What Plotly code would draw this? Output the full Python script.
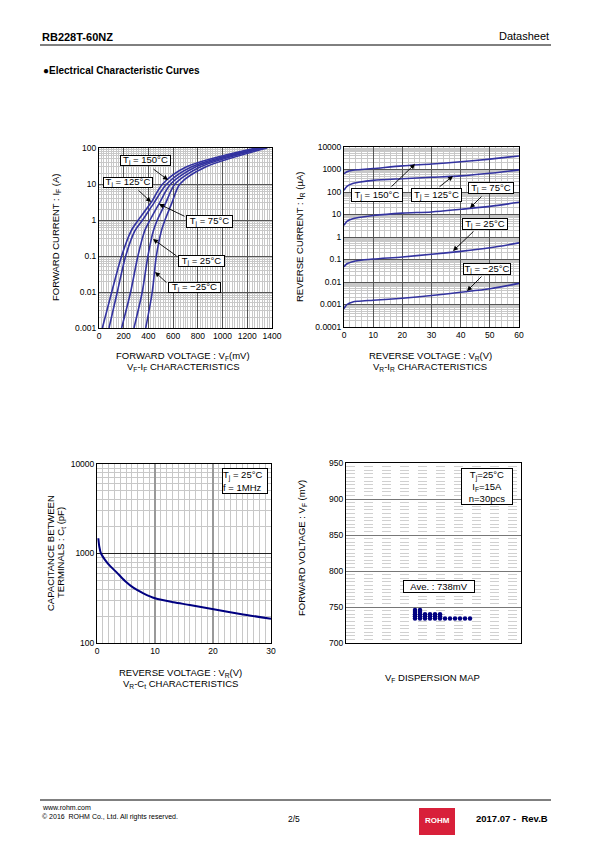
import plotly.graph_objects as go

W, H = 595, 842
FONT = "Liberation Sans, Arial, sans-serif"

# ---------------- data ----------------
# VF-IF characteristics (forward current A, forward voltage mV)
if_current = [0.001, 0.01, 0.1, 0.5, 1, 3, 10, 30, 100]
vf_150 = [27, 103, 183, 260, 318, 420, 515, 709, 1270]
vf_125 = [81, 148, 216, 290, 353, 445, 548, 750, 1295]
vf_75 = [183, 256, 315, 370, 413, 490, 580, 785, 1315]
vf_25 = [283, 350, 396, 440, 472, 540, 615, 823, 1335]
vf_m25 = [378, 431, 464, 505, 534, 590, 655, 866, 1360]

# VR-IR characteristics (reverse voltage V, reverse current uA)
vr_volt = [0, 1, 3, 5, 10, 20, 30, 40, 50, 60]
ir_150 = [650, 800, 920, 980, 1100, 1450, 1750, 2200, 2900, 4000]
ir_125 = [120, 180, 240, 270, 330, 390, 450, 520, 680, 960]
ir_75 = [3.3, 5, 6.5, 7.3, 9, 11.5, 13, 17, 23, 35]
ir_25 = [0.047, 0.065, 0.08, 0.09, 0.105, 0.13, 0.17, 0.23, 0.33, 0.55]
ir_m25 = [0.00065, 0.001, 0.0013, 0.0014, 0.00155, 0.0019, 0.0025, 0.0035, 0.005, 0.0087]

# VR-Ct characteristics (reverse voltage V, capacitance pF)
ct_volt = [0.23, 0.4, 0.69, 1.38, 2.24, 3.39, 4.83, 6.26, 8.0, 10, 13.2, 16, 20.1, 24.7, 30]
ct_cap = [1480, 1190, 1000, 850, 727, 615, 493, 415, 359, 316, 285, 266, 238, 211, 187]

# VF dispersion (mV), n pieces
vf_dispersion = [746, 746,
                 743, 743,
                 740, 740, 740, 740, 740, 740,
                 737, 737, 737, 737, 737, 737,
                 734, 734, 734, 734, 734, 734, 734, 734, 734, 734, 734, 734]

vf_ticks = [0, 200, 400, 600, 800, 1000, 1200, 1400]
if_ticks = [0.001, 0.01, 0.1, 1, 10, 100]
if_ticktext = ["0.001", "0.01", "0.1", "1", "10", "100"]
vr_ticks = [0, 10, 20, 30, 40, 50, 60]
ir_ticks = [0.0001, 0.001, 0.01, 0.1, 1, 10, 100, 1000, 10000]
ir_ticktext = ["0.0001", "0.001", "0.01", "0.1", "1", "10", "100", "1000", "10000"]
ct_xticks = [0, 10, 20, 30]
ct_ticks = [100, 1000, 10000]
disp_ticks = [700, 750, 800, 850, 900, 950]

CURVE = "#3333a0"
NAVY = "#000080"


def px(x):
    return x / W


def py(y):
    return 1 - y / H


fig = go.Figure()

# ---------- plot 1 ----------
for v in [vf_150, vf_125, vf_75, vf_25, vf_m25]:
    fig.add_trace(go.Scatter(x=v, y=if_current, mode="lines", xaxis="x", yaxis="y",
                             line=dict(color=CURVE, width=1.6, shape="spline", smoothing=0.8),
                             showlegend=False, hoverinfo="skip"))
# ---------- plot 2 ----------
for c in [ir_150, ir_125, ir_75, ir_25, ir_m25]:
    fig.add_trace(go.Scatter(x=vr_volt, y=c, mode="lines", xaxis="x2", yaxis="y2",
                             line=dict(color=CURVE, width=1.6, shape="spline", smoothing=0.8),
                             showlegend=False, hoverinfo="skip"))
# ---------- plot 3 ----------
fig.add_trace(go.Scatter(x=ct_volt, y=ct_cap, mode="lines", xaxis="x3", yaxis="y3",
                         line=dict(color=NAVY, width=2, shape="spline", smoothing=0.8),
                         showlegend=False, hoverinfo="skip"))
# ---------- plot 4 ----------
disp_x = []
seen = {}
for v in vf_dispersion:
    k = seen.get(v, 0)
    disp_x.append(k)
    seen[v] = k + 1
fig.add_trace(go.Scatter(x=disp_x, y=vf_dispersion, mode="markers", xaxis="x4", yaxis="y4",
                         marker=dict(color=NAVY, size=4.5, symbol="circle"),
                         showlegend=False, hoverinfo="skip"))

MAJ = "#555555"
MIN = "#c8c8c8"
tickfont = dict(family=FONT, size=8.5, color="black")


def axis(domain, **kw):
    d = dict(domain=domain, showline=True, linecolor="black", linewidth=1, mirror=True,
             ticks="", tickfont=tickfont, showgrid=True, gridcolor=MAJ, gridwidth=1,
             zeroline=False, fixedrange=True, automargin=False)
    d.update(kw)
    return d


fig.update_layout(
    template="none",
    width=W, height=H, margin=dict(l=0, r=0, t=0, b=0, pad=0, autoexpand=False),
    paper_bgcolor="white", plot_bgcolor="white", showlegend=False,
    font=dict(family=FONT, color="black"),
    xaxis=axis([px(99), px(272)], anchor="y", range=[0, 1400], tickvals=vf_ticks,
               minor=dict(dtick=20, showgrid=True, gridcolor=MIN, gridwidth=0.6)),
    yaxis=axis([py(328), py(148)], anchor="x", type="log", range=[-3, 2], tickvals=if_ticks,
               ticktext=if_ticktext,
               minor=dict(dtick="D1", showgrid=True, gridcolor=MIN, gridwidth=0.6)),
    xaxis2=axis([px(344), px(519)], anchor="y2", range=[0, 60], tickvals=vr_ticks,
                minor=dict(dtick=2, showgrid=True, gridcolor=MIN, gridwidth=0.6)),
    yaxis2=axis([py(327), py(147)], anchor="x2", type="log", range=[-4, 4], tickvals=ir_ticks,
                ticktext=ir_ticktext,
                minor=dict(dtick="D1", showgrid=True, gridcolor=MIN, gridwidth=0.6)),
    xaxis3=axis([px(97), px(271)], anchor="y3", range=[0, 30], tickvals=ct_xticks,
                gridcolor="#999999", gridwidth=1.5,
                minor=dict(dtick=1, showgrid=True, gridcolor=MIN, gridwidth=0.6)),
    yaxis3=axis([py(643), py(464)], anchor="x3", type="log", range=[2, 4], tickvals=ct_ticks,
                ticktext=["100", "1000", "10000"], gridcolor="#222222",
                minor=dict(dtick="D1", showgrid=True, gridcolor=MIN, gridwidth=0.6)),
    xaxis4=axis([px(346), px(521)], anchor="y4", range=[-13.8, 21.2], showticklabels=False,
                showgrid=False),
    yaxis4=axis([py(643), py(463)], anchor="x4", range=[700, 950], tickvals=disp_ticks,
                gridcolor="#777777", gridwidth=1.3,
                minor=dict(dtick=5, showgrid=True, gridcolor="#d0d0d0", gridwidth=0.6,
                           griddash="dash")),
)

ann = []


def text(x, y, s, size=9.5, xanchor="center", yanchor="middle", angle=0, bold=False,
         color="black"):
    if bold:
        s = "<b>" + s + "</b>"
    ann.append(dict(x=px(x), y=py(y), xref="paper", yref="paper", text=s, showarrow=False,
                    xanchor=xanchor, yanchor=yanchor, textangle=angle,
                    font=dict(family=FONT, size=size, color=color)))


def box(x0, y0, x1, y1, s, size=9.5, align="center"):
    ann.append(dict(x=px((x0 + x1) / 2), y=py((y0 + y1) / 2), xref="paper", yref="paper",
                    text=s, showarrow=False, xanchor="center", yanchor="middle", align=align,
                    width=x1 - x0 - 2, height=y1 - y0 - 2, bgcolor="white",
                    bordercolor="black", borderwidth=1, borderpad=0,
                    font=dict(family=FONT, size=size, color="black")))


def arrow(tx, ty, hx, hy):
    ann.append(dict(x=px(hx), y=py(hy), xref="paper", yref="paper", text="",
                    showarrow=True, ax=tx - hx, ay=ty - hy, arrowhead=2, arrowsize=1.1,
                    arrowwidth=0.9, arrowcolor="black", standoff=0, startstandoff=0))


# header / footer
text(40, 37, "RB228T-60NZ", size=11, xanchor="left", bold=True)
text(551, 36, "Datasheet", size=11, xanchor="right")
text(41, 71, "●Electrical Characteristic Curves", size=10, xanchor="left", bold=True)
text(40, 807, "www.rohm.com", size=7, xanchor="left")
text(40, 817, "© 2016  ROHM Co., Ltd. All rights reserved.", size=7, xanchor="left")
text(294, 819, "2/5", size=8.5)
text(550, 818, "2017.07 -  Rev.B", size=9.5, xanchor="right", bold=True)
text(437, 820, "ROHM", size=8, bold=True, color="white")

# plot 1 texts
text(183, 356, "FORWARD VOLTAGE : V<sub>F</sub>(mV)")
text(183, 367, "V<sub>F</sub>-I<sub>F</sub> CHARACTERISTICS")
text(56, 238, "FORWARD CURRENT : I<sub>F</sub> (A)", angle=-90)
box(120, 155, 171, 166, "T<sub>j</sub> = 150°C")
box(103, 177, 153, 188, "T<sub>j</sub> = 125°C")
box(186, 215, 233, 228, "T<sub>j</sub> = 75°C")
box(178, 255, 225, 267, "T<sub>j</sub> = 25°C")
box(168, 282, 221, 293, "T<sub>j</sub> = −25°C")
arrow(152, 168, 168, 180)
arrow(137, 189, 151, 202)
arrow(186, 217, 159, 204)
arrow(178, 257, 153, 239)
arrow(168, 284, 155, 272)

# plot 2 texts
text(430, 356, "REVERSE VOLTAGE : V<sub>R</sub>(V)")
text(430, 367, "V<sub>R</sub>-I<sub>R</sub> CHARACTERISTICS")
text(300, 237, "REVERSE CURRENT : I<sub>R</sub> (µA)", angle=-90)
box(351, 188, 403, 202, "T<sub>j</sub> = 150°C")
box(411, 188, 462, 202, "T<sub>j</sub> = 125°C")
box(468, 182, 514, 194, "T<sub>j</sub> = 75°C")
box(462, 218, 508, 230, "T<sub>j</sub> = 25°C")
box(463, 263, 511, 275, "T<sub>j</sub> = −25°C")
arrow(390, 188, 415, 164)
arrow(438, 188, 453, 176)
arrow(483, 195, 470, 208)
arrow(475, 230, 453, 251)
arrow(483, 275, 467, 291)

# plot 3 texts
text(180, 673, "REVERSE VOLTAGE : V<sub>R</sub>(V)")
text(180, 684, "V<sub>R</sub>-C<sub>t</sub> CHARACTERISTICS")
text(50, 553, "CAPACITANCE BETWEEN", angle=-90)
text(61, 553, "TERMINALS : C<sub>t</sub> (pF)", angle=-90)
box(222, 468, 268, 494, "T<sub>j</sub> = 25°C<br>f = 1MHz", align="left")

# plot 4 texts
text(432, 678, "V<sub>F</sub> DISPERSION MAP")
text(302, 548, "FORWARD VOLTAGE : V<sub>F</sub> (mV)", angle=-90)
box(461, 468, 513, 505, "T<sub>j</sub>=25°C<br>I<sub>F</sub>=15A<br>n=30pcs")
box(403, 580, 475, 593, "Ave. : 738mV")

fig.update_layout(annotations=ann)

shapes = [
    dict(type="line", xref="paper", yref="paper", x0=px(40), x1=px(551), y0=py(45), y1=py(45),
         line=dict(color="black", width=1)),
    dict(type="line", xref="paper", yref="paper", x0=px(40), x1=px(551), y0=py(800), y1=py(800),
         line=dict(color="black", width=1)),
    dict(type="rect", xref="paper", yref="paper", x0=px(419), x1=px(455), y0=py(835), y1=py(808),
         fillcolor="#d8203a", line=dict(width=0), layer="below"),
]
fig.update_layout(shapes=shapes)

css_js = (
    "var s=document.createElement('style');"
    "s.textContent='html,body{margin:0!important;padding:0!important;overflow:hidden!important;}';"
    "document.head.appendChild(s);"
)

fig.write_html("out.html", config={"displayModeBar": False}, post_script=css_js)
